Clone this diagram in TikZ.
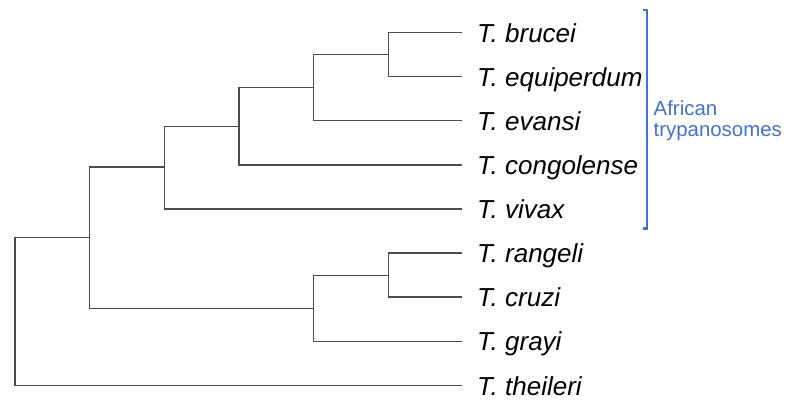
\documentclass[tikz,border=0pt]{standalone}
\usepackage{fontspec}
\setmainfont{Liberation Sans}
\begin{document}
\begin{tikzpicture}[x=1pt,y=-1pt,
  branch/.style={draw=black!70, line width=1.2pt},
  taxon/.style={anchor=base west, inner sep=0pt, font=\fontsize{26}{30}\selectfont\itshape},
  cladebar/.style={draw=cladeblue, line width=2.5pt},
  cladelabel/.style={anchor=north west, inner sep=0pt, align=left, text=cladeblue, font=\fontsize{20.4}{21.5}\selectfont}]
\definecolor{cladeblue}{HTML}{4472C4}
\useasboundingbox (0,0) rectangle (785,400);

% leaf tips
\coordinate (brucei) at (462,32.7);
\coordinate (equiperdum) at (462,76.7);
\coordinate (evansi) at (462,120.7);
\coordinate (congolense) at (462,165);
\coordinate (vivax) at (462,209);
\coordinate (rangeli) at (462,253);
\coordinate (cruzi) at (462,297);
\coordinate (grayi) at (462,341.5);
\coordinate (theileri) at (462,385.7);

% internal nodes
\coordinate (n1) at (388.3,54.5);
\coordinate (n2) at (313.7,87.7);
\coordinate (n3) at (239,126.3);
\coordinate (n4) at (164.3,166.9);
\coordinate (n5) at (388.3,275.2);
\coordinate (n6) at (313.7,308.3);
\coordinate (n7) at (89.7,237.6);
\coordinate (root) at (15,237.6);

% branches
\draw[branch] (brucei) -| (n1) |- (equiperdum);
\draw[branch] (n1) -| (n2) |- (evansi);
\draw[branch] (n2) -| (n3) |- (congolense);
\draw[branch] (n3) -| (n4) |- (vivax);
\draw[branch] (rangeli) -| (n5) |- (cruzi);
\draw[branch] (n5) -| (n6) |- (grayi);
\draw[branch] (n4) -| (n7) |- (n6);
\draw[branch] (n7) -| (root) |- (theileri);

% taxon names
\foreach \t/\name in {brucei/T. brucei, equiperdum/T. equiperdum, evansi/T. evansi,
  congolense/T. congolense, vivax/T. vivax, rangeli/T. rangeli, cruzi/T. cruzi,
  grayi/T. grayi, theileri/T. theileri}
  \node[taxon] (lbl-\t) at ([xshift=15pt,yshift=-9.3pt]\t) {\name};

% African trypanosome clade
\coordinate (bartop) at (647,10);
\coordinate (barbot) at (647,228.3);
\draw[cladebar] ([xshift=-4.5pt]bartop) -- (bartop) -- (barbot) -- ([xshift=-4.5pt]barbot);
\node[cladelabel] (clade) at (653.5,100.5) {African\\trypanosomes};
\end{tikzpicture}
\end{document}
